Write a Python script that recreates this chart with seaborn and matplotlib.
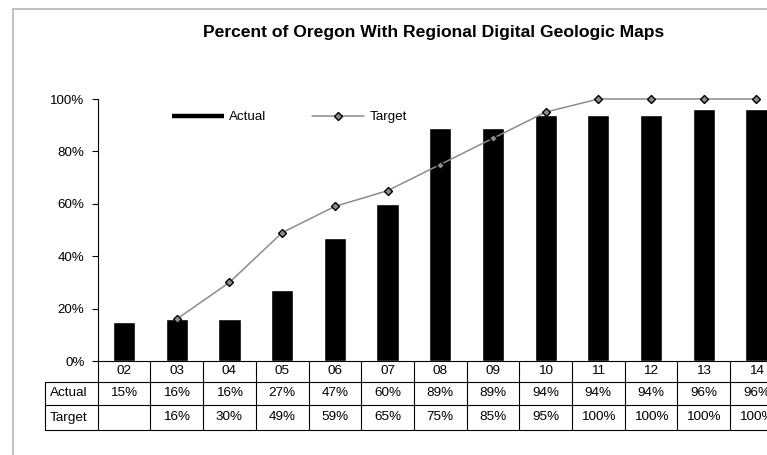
import numpy as np
import pandas as pd
import matplotlib
matplotlib.use("Agg")
import matplotlib.pyplot as plt
from matplotlib.patches import Rectangle
from matplotlib.lines import Line2D
import matplotlib.transforms as mtransforms
import seaborn as sns

years = ["02", "03", "04", "05", "06", "07", "08", "09", "10", "11", "12", "13", "14"]
actual = [15, 16, 16, 27, 47, 60, 89, 89, 94, 94, 94, 96, 96]
target = [np.nan, 16, 30, 49, 59, 65, 75, 85, 95, 100, 100, 100, 100]
y_ticks = [0, 20, 40, 60, 80, 100]
title = "Percent of Oregon With Regional Digital Geologic Maps"

sns.set_theme(style="white")
plt.rcParams["font.family"] = ["Liberation Sans", "DejaVu Sans"]
plt.rcParams["text.color"] = "black"
plt.rcParams["ytick.color"] = "black"
plt.rcParams["xtick.color"] = "black"

W, H = 767, 455
DPI = 100
fig = plt.figure(figsize=(W / DPI, H / DPI), dpi=DPI)
fig.patch.set_facecolor("white")

# axes in pixel layout
x0, x1 = 97.7, 97.7 + 13 * 52.7
ytop, ybot = 99.0, 361.0
ax = fig.add_axes([x0 / W, 1 - ybot / H, (x1 - x0) / W, (ybot - ytop) / H])
ax.set_facecolor("none")

df = pd.DataFrame({"year": years, "Actual": [a / 100 for a in actual],
                   "Target": [t / 100 for t in target]})
df["pos"] = np.arange(len(years))

sns.barplot(data=df, x="year", y="Actual", color="black", width=0.42,
            saturation=1, ax=ax, zorder=2)
ax.plot(df["pos"], df["Target"], color="#8c8c8c", lw=1.1, marker="D",
        markersize=4.2, markerfacecolor="#8c8c8c", markeredgecolor="black",
        markeredgewidth=1.0, zorder=3, clip_on=False)

ax.set_xlim(-0.5, len(years) - 0.5)
ax.set_ylim(0, 1)
ax.set_yticks([v / 100 for v in y_ticks])
ax.set_yticklabels([f"{v}%" for v in y_ticks], fontsize=9.6, color="black")
ax.set_xticks([])
ax.set_xlabel("")
ax.set_ylabel("")
for s in ["top", "right"]:
    ax.spines[s].set_visible(False)
for s in ["left", "bottom"]:
    ax.spines[s].set_color("black")
    ax.spines[s].set_linewidth(0.8)
ax.tick_params(axis="y", direction="out", length=4, width=0.8, color="black", pad=5.5, left=True)
ax.grid(False)

# data table
def ay(py):
    return (ybot - py) / (ybot - ytop)

trans = mtransforms.blended_transform_factory(ax.transData, ax.transAxes)
trans_px_x = mtransforms.blended_transform_factory(fig.transFigure, ax.transAxes)
rows_y = [361.0, 381.7, 405.0, 430.0]
lkw = dict(color="black", lw=0.8, clip_on=False)
n = len(years)
for k in range(n + 1):
    ax.add_line(Line2D([k - 0.5, k - 0.5], [ay(rows_y[0]), ay(rows_y[3])], transform=trans, **lkw))
for i, py in enumerate(rows_y[1:]):
    ax.add_line(Line2D([45.0 / W, 1.2], [ay(py), ay(py)], transform=trans_px_x, **lkw))
ax.add_line(Line2D([45.0 / W, 45.0 / W], [ay(rows_y[1]), ay(rows_y[3])], transform=trans_px_x, **lkw))

tkw = dict(fontsize=9.7, ha="center", va="center", clip_on=False, color="black")
mid = [(rows_y[i] + rows_y[i + 1]) / 2 for i in range(3)]
for k in range(n):
    ax.text(k, ay(mid[0]), years[k], transform=trans, **tkw)
    ax.text(k, ay(mid[1]), f"{actual[k]}%", transform=trans, **tkw)
    if not np.isnan(target[k]):
        ax.text(k, ay(mid[2]), f"{int(target[k])}%", transform=trans, **tkw)
ax.text(49.5 / W, ay(mid[1]), "Actual", transform=trans_px_x, fontsize=9.7, ha="left", va="center", clip_on=False)
ax.text(49.5 / W, ay(mid[2]), "Target", transform=trans_px_x, fontsize=9.7, ha="left", va="center", clip_on=False)

# legend
handles = [Line2D([], [], color="black", lw=3.2, solid_capstyle="butt"),
           Line2D([], [], color="#8c8c8c", lw=1.1, marker="D", markersize=4.2,
                  markerfacecolor="#8c8c8c", markeredgecolor="black")]
leg = ax.legend(handles, ["Actual", "Target"], ncol=2, frameon=False, fontsize=9.6,
                handlelength=3.9, columnspacing=3.4, handletextpad=0.4,
                loc="center left", bbox_to_anchor=(172 / W, 1 - 117 / H),
                bbox_transform=fig.transFigure, borderaxespad=0, borderpad=0)
for t in leg.get_texts():
    t.set_color("black")

# title
fig.text(434 / W, 1 - 33 / H, title, ha="center", va="center", fontsize=12.6,
         fontweight="bold", color="black")

# chart frame
fig.add_artist(Rectangle((12.5 / W, -0.1), 2.0, 1.1 - 9.3 / H, transform=fig.transFigure,
                         fill=False, edgecolor="#bfbfbf", lw=1.4, clip_on=False))

fig.savefig("out.png", dpi=DPI)
